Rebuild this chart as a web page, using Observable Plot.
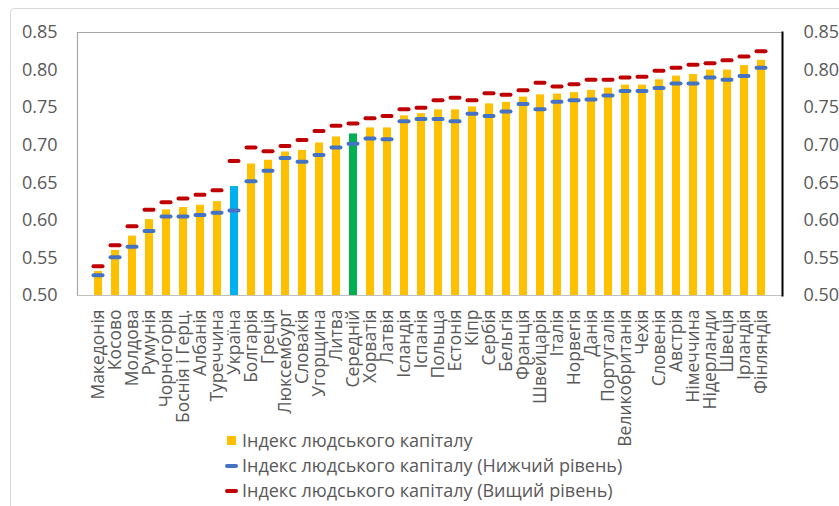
<!DOCTYPE html>
<html>
<head>
<meta charset="utf-8">
<script src="https://cdn.jsdelivr.net/npm/d3@7"></script>
<script src="https://cdn.jsdelivr.net/npm/@observablehq/plot@0.6"></script>
<style>
  html, body { margin: 0; padding: 0; background: #fff; }
  body { width: 839px; height: 506px; overflow: hidden; position: relative; font-family: "Open Sans", sans-serif; }
  #border { position: absolute; left: 10px; top: 8px; width: 840px; height: 520px; border: 1.5px solid #d9d9d9; border-radius: 4px; box-sizing: border-box; }
  #chart { position: absolute; left: 0; top: 0; }
  #legend { position: absolute; left: 224px; top: 428px; color: #595959; font-size: 18px; line-height: 25px; }
  .row { display: flex; align-items: center; height: 25px; white-space: nowrap; }
  .sw { width: 14px; margin-right: 4px; display: flex; justify-content: center; }
  .sq { width: 9px; height: 9px; }
  .ln { width: 13px; height: 4px; border-radius: 2px; }
</style>
</head>
<body>
<div id="border"></div>
<div id="chart"></div>
<div id="legend"></div>
<script>
const categories = ["Македонія","Косово","Молдова","Румунія","Чорногорія","Боснія і Герц.","Албанія","Туреччина","Україна","Болгарія","Греція","Люксембург","Словакія","Угорщина","Литва","Середній","Хорватія","Латвія","Ісландія","Іспанія","Польща","Естонія","Кіпр","Сербія","Бельгія","Франція","Швейцарія","Італія","Норвегія","Данія","Португалія","Великобританія","Чехія","Словенія","Австрія","Німеччина","Нідерланди","Швеція","Ірландія","Фінляндія"];
const hci   = [0.532,0.560,0.579,0.601,0.614,0.617,0.620,0.625,0.645,0.675,0.680,0.691,0.693,0.703,0.711,0.715,0.723,0.723,0.739,0.742,0.747,0.747,0.751,0.755,0.757,0.764,0.767,0.768,0.770,0.773,0.776,0.780,0.780,0.787,0.792,0.794,0.800,0.800,0.806,0.813];
const lower = [0.527,0.551,0.565,0.586,0.605,0.605,0.607,0.610,0.613,0.652,0.666,0.683,0.678,0.687,0.697,0.702,0.709,0.708,0.732,0.735,0.735,0.732,0.742,0.739,0.745,0.755,0.748,0.758,0.760,0.761,0.766,0.772,0.772,0.776,0.782,0.782,0.790,0.787,0.792,0.803];
const upper = [0.539,0.567,0.592,0.614,0.624,0.629,0.634,0.640,0.679,0.697,0.692,0.699,0.707,0.719,0.726,0.729,0.736,0.739,0.748,0.750,0.760,0.763,0.760,0.769,0.767,0.773,0.783,0.778,0.781,0.787,0.787,0.790,0.791,0.799,0.803,0.807,0.809,0.813,0.818,0.825];
const yTicks = [0.50,0.55,0.60,0.65,0.70,0.75,0.80,0.85];
const highlight = {"Україна": "#00B0F0", "Середній": "#00B050"};
const barColor = "#FFC000", lowColor = "#4472C4", highColor = "#C00000";
const legendItems = [
  {label: "Індекс людського капіталу", color: barColor, kind: "sq"},
  {label: "Індекс людського капіталу (Нижчий рівень)", color: lowColor, kind: "ln"},
  {label: "Індекс людського капіталу (Вищий рівень)", color: highColor, kind: "ln"}
];

const data = categories.map((c, i) => ({c, v: hci[i], lo: lower[i], hi: upper[i], base: yTicks[0]}));
const textColor = "#595959";

const chart = Plot.plot({
  width: 839,
  height: 506,
  marginLeft: 77,
  marginRight: 57,
  marginTop: 32,
  marginBottom: 211,
  style: {fontFamily: "Open Sans, sans-serif", color: textColor, background: "transparent", overflow: "visible"},
  x: {domain: categories, paddingInner: 0.54, paddingOuter: 0.27, axis: null},
  y: {domain: [yTicks[0], yTicks[yTicks.length - 1]], axis: null},
  marks: [
    Plot.barY(data, {x: "c", y1: "base", y2: "v", fill: d => highlight[d.c] || barColor}),
    Plot.tickY(data, {x: "c", y: "lo", stroke: lowColor, strokeWidth: 4, strokeLinecap: "round", insetLeft: -0.5, insetRight: -0.5}),
    Plot.tickY(data, {x: "c", y: "hi", stroke: highColor, strokeWidth: 4, strokeLinecap: "round", insetLeft: -0.5, insetRight: -0.5}),
    Plot.frame({anchor: "top", stroke: "#a6a6a6", strokeWidth: 1.2}),
    Plot.frame({anchor: "left", stroke: "#a6a6a6", strokeWidth: 1.2}),
    Plot.frame({anchor: "bottom", stroke: "#bfbfbf", strokeWidth: 1.2}),
    Plot.frame({anchor: "right", stroke: "#000", strokeWidth: 2}),
    Plot.axisY({anchor: "left", ticks: yTicks, tickFormat: ".2f", tickSize: 0, tickPadding: 20, fontSize: 18, fill: textColor, label: null}),
    Plot.axisY({anchor: "right", ticks: yTicks, tickFormat: ".2f", tickSize: 0, tickPadding: 21, fontSize: 18, fill: textColor, label: null}),
    Plot.axisX({anchor: "bottom", tickSize: 0, tickRotate: -90, tickPadding: 14, fontSize: 17.5, fill: textColor, label: null})
  ]
});
document.getElementById("chart").appendChild(chart);

const leg = d3.select("#legend");
legendItems.forEach(it => {
  const row = leg.append("div").attr("class", "row");
  row.append("div").attr("class", "sw").append("div").attr("class", it.kind).style("background", it.color);
  row.append("span").text(it.label);
});
</script>
</body>
</html>
